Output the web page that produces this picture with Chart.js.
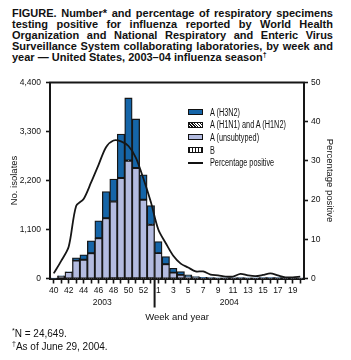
<!DOCTYPE html>
<html>
<head>
<meta charset="utf-8">
<script src="https://cdn.jsdelivr.net/npm/chart.js@4.4.1/dist/chart.umd.min.js"></script>
<style>
  body { margin: 0; background: #fff; }
  #wrap { position: relative; width: 351px; height: 360px; overflow: hidden; }
  #chart { position: absolute; left: 0; top: 0; }
  .title { position: absolute; left: 12px; top: 8px; width: 321px;
    font: bold 11px/11px "Liberation Sans", Arial, sans-serif; color: #111; }
  .title div { text-align: justify; text-align-last: justify; white-space: nowrap; }
  .title div.last { text-align-last: left; }
  .title sup { font-size: 7px; line-height: 0; vertical-align: 4px; }
  .notes { position: absolute; left: 12px; top: 328px;
    font: 10px/12.5px "Liberation Sans", Arial, sans-serif; color: #111; }
  .notes sup { font-size: 7px; line-height: 0; vertical-align: 4px; }
  #legend { position: absolute; left: 188px; top: 106px;
    font: 10px "Liberation Sans", Arial, sans-serif; color: #111; }
  #legend .row { height: 12.6px; display: flex; align-items: center; white-space: nowrap; }
  #legend .txt { display: inline-block; transform: scaleX(0.73); transform-origin: left center; }
  #legend .sw { width: 13px; height: 4px; border: 1px solid #111; margin-right: 7px; flex: none; }
  #legend .ln { width: 15px; height: 2px; background: #111; margin-right: 7px; flex: none; }
</style>
</head>
<body>
<div id="wrap">
  <div class="title">
    <div>FIGURE. Number* and percentage of respiratory specimens</div>
    <div>testing positive for influenza reported by World Health</div>
    <div>Organization and National Respiratory and Enteric Virus</div>
    <div>Surveillance System collaborating laboratories, by week and</div>
    <div class="last">year — United States, 2003–04 influenza season<sup>†</sup></div>
  </div>
  <canvas id="chart" width="351" height="360"></canvas>
  <div id="legend"></div>
  <div class="notes">
    <div><sup>*</sup>N = 24,649.</div>
    <div><sup>†</sup>As of June 29, 2004.</div>
  </div>
</div>
<script>
// weeks 40-53 of 2003, then 1-20 of 2004
const weeks = ['40','41','42','43','44','45','46','47','48','49','50','51','52','53',
  '1','2','3','4','5','6','7','8','9','10','11','12','13','14','15','16','17','18','19','20'];
const years = ['2003', '2004'];
const firstWeek2004 = '1';

const unsubtyped = [8, 55, 145, 400, 420, 566, 902, 1351, 1724, 2250, 2638, 2474, 1762, 1201,
  566, 319, 130, 79, 27, 20, 14, 12, 10, 10, 10, 12, 10, 10, 12, 14, 12, 10, 8, 8];
const h3n2 = [2, 5, 5, 65, 110, 276, 389, 598, 503, 987, 1407, 1100, 562, 433,
  260, 170, 99, 74, 52, 20, 10, 6, 5, 4, 4, 5, 4, 4, 5, 6, 5, 4, 3, 3];
const h1n1 = [0, 0, 0, 0, 0, 0, 1, 2, 2, 3, 4, 3, 2, 1,
  1, 1, 0, 0, 0, 0, 0, 0, 0, 0, 0, 0, 0, 0, 0, 0, 0, 0, 0, 0];
const typeB = [0, 0, 1, 1, 1, 2, 2, 3, 4, 4, 5, 5, 4, 4,
  3, 3, 2, 2, 2, 2, 2, 2, 2, 2, 2, 2, 2, 2, 2, 2, 2, 2, 1, 1];
const pctPositive = [1.3, 4.5, 8.1, 18.5, 20.3, 24.5, 29, 33.5, 35.2, 35, 33.8, 30.8, 25.5, 19.5,
  12.5, 9, 5.8, 3.8, 2.8, 1.8, 1.8, 1.0, 0.8, 0.5, 0.5, 1.2, 0.8, 0.6, 0.9, 1.3, 0.8, 0.3, 0.3, 0.5];

const countTicks = [0, 1100, 2200, 3300, 4400];
const pctTicks = [0, 10, 20, 30, 40, 50];

function makePattern(kind) {
  const c = document.createElement('canvas');
  c.width = 4; c.height = 4;
  const g = c.getContext('2d');
  g.fillStyle = '#111'; g.fillRect(0, 0, 4, 4);
  g.fillStyle = '#fff';
  if (kind === 'dots') { g.fillRect(0, 0, 1, 1); g.fillRect(2, 2, 1, 1); }
  else { g.fillRect(1, 0, 1, 4); g.fillRect(3, 0, 1, 4); }
  return document.getElementById('chart').getContext('2d').createPattern(c, 'repeat');
}

const INK = '#161616';
const FONT = '"Liberation Sans", Arial, sans-serif';

const barStyle = {
  type: 'bar', yAxisID: 'y', borderColor: INK, borderWidth: 1.3,
  barPercentage: 1, categoryPercentage: 1, borderSkipped: false
};

const frame = {
  id: 'frame',
  afterDraw(chart) {
    const { ctx, chartArea: a, scales: { x } } = chart;
    ctx.save();
    ctx.strokeStyle = INK;
    ctx.lineWidth = 2;
    ctx.beginPath();
    ctx.moveTo(a.left - 1, a.top); ctx.lineTo(a.right + 1, a.top);
    // year divider below the axis
    const i = weeks.indexOf(firstWeek2004);
    const xd = (x.getPixelForValue(i - 1) + x.getPixelForValue(i)) / 2;
    ctx.moveTo(xd, a.bottom); ctx.lineTo(xd, a.bottom + 29);
    ctx.stroke();
    ctx.fillStyle = '#111';
    ctx.font = '8.5px ' + FONT;
    ctx.textAlign = 'center';
    ctx.textBaseline = 'middle';
    const x03 = (x.getPixelForValue(0) + x.getPixelForValue(i - 1)) / 2;
    const x04 = (x.getPixelForValue(i) + x.getPixelForValue(weeks.length - 1)) / 2;
    ctx.fillText(years[0], x03, a.bottom + 24);
    ctx.fillText(years[1], x04, a.bottom + 24);
    ctx.restore();
  }
};

const chart = new Chart(document.getElementById('chart'), {
  data: {
    labels: weeks,
    datasets: [
      { ...barStyle, label: 'B', data: typeB, backgroundColor: makePattern('stripes'), order: 2 },
      { ...barStyle, label: 'A (unsubtyped)', data: unsubtyped, backgroundColor: '#b3bbe0', order: 2 },
      { ...barStyle, label: 'A (H1N1) and A (H1N2)', data: h1n1, backgroundColor: makePattern('dots'), order: 2 },
      { ...barStyle, label: 'A (H3N2)', data: h3n2, backgroundColor: '#1565a8', order: 2 },
      { type: 'line', label: 'Percentage positive', data: pctPositive, yAxisID: 'y1',
        borderColor: INK, borderWidth: 1.8, pointRadius: 0, tension: 0.3, fill: false, order: 1 }
    ]
  },
  options: {
    responsive: false,
    animation: false,
    layout: { padding: { top: 82.5, left: 0, right: 0, bottom: 0 } },
    plugins: { legend: { display: false }, tooltip: { enabled: false } },
    scales: {
      x: {
        stacked: true,
        offset: true,
        grid: { offset: false, drawOnChartArea: false, tickLength: 5, tickWidth: 1.6, tickColor: INK },
        border: { color: INK, width: 2 },
        ticks: {
          autoSkip: false, maxRotation: 0, padding: 2, color: '#111',
          font: { family: FONT, size: 8.5 },
          callback: (v, i) => (i % 2 === 0 ? weeks[i] : '')
        },
        title: { display: true, text: 'Week and year', color: '#111',
          font: { family: FONT, size: 9.5 }, padding: { top: 37, bottom: 37 } },
        afterFit: s => { s.height = 360 - 278.5; }
      },
      y: {
        stacked: true, position: 'left', min: 0, max: 4400,
        afterBuildTicks: s => { s.ticks = countTicks.map(v => ({ value: v })); },
        grid: { drawOnChartArea: false, tickLength: 4, tickWidth: 1.6, tickColor: INK },
        border: { color: INK, width: 2 },
        ticks: { padding: 5, color: '#111', font: { family: FONT, size: 8.5 },
          callback: v => v.toLocaleString('en-US') },
        title: { display: true, text: 'No. isolates', color: '#111',
          font: { family: FONT, size: 9.5 }, padding: { top: 9, bottom: 0 } },
        afterFit: s => { s.width = 50; }
      },
      y1: {
        position: 'right', min: 0, max: 50,
        afterBuildTicks: s => { s.ticks = pctTicks.map(v => ({ value: v })); },
        grid: { drawOnChartArea: false, tickLength: 4, tickWidth: 1.6, tickColor: INK },
        border: { color: INK, width: 2 },
        ticks: { padding: 3, color: '#111', font: { family: FONT, size: 8.5 } },
        title: { display: true, text: 'Percentage positive', color: '#111',
          font: { family: FONT, size: 9.5 }, padding: { top: 16, bottom: 0 } },
        afterFit: s => { s.width = 351 - 304; }
      }
    }
  },
  plugins: [frame]
});

// legend, in the reference order
const legendOrder = ['A (H3N2)', 'A (H1N1) and A (H1N2)', 'A (unsubtyped)', 'B', 'Percentage positive'];
const swatchCss = {
  'A (H3N2)': 'background:#1565a8',
  'A (H1N1) and A (H1N2)': 'background:#111 repeating-linear-gradient(45deg,#111 0 1px,#fff 1px 2px)',
  'A (unsubtyped)': 'background:#b3bbe0',
  'B': 'background:repeating-linear-gradient(90deg,#111 0 1.5px,#fff 1.5px 3px)'
};
const leg = document.getElementById('legend');
legendOrder.forEach(name => {
  const ds = chart.data.datasets.find(d => d.label === name);
  const row = document.createElement('div');
  row.className = 'row';
  const sw = document.createElement('span');
  if (ds.type === 'line') sw.className = 'ln';
  else { sw.className = 'sw'; sw.style.cssText = swatchCss[name]; }
  const txt = document.createElement('span');
  txt.className = 'txt';
  txt.textContent = ds.label;
  row.appendChild(sw);
  row.appendChild(txt);
  leg.appendChild(row);
});
</script>
</body>
</html>
